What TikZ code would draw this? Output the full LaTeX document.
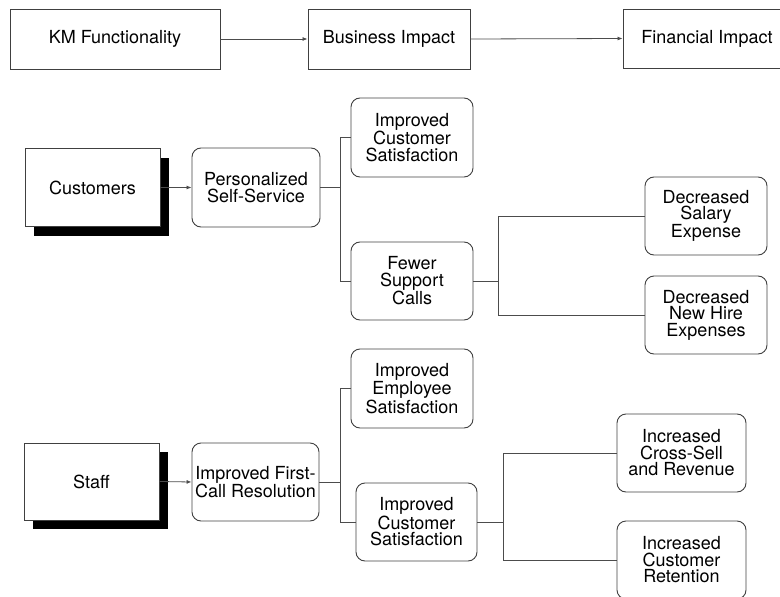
\documentclass[tikz,border=0pt]{standalone}
\usepackage{fontspec}
\setmainfont{TeX Gyre Heros}
\usetikzlibrary{arrows.meta,shadows}
\begin{document}
\begin{tikzpicture}[x=1pt,y=-1pt,
  every node/.style={font=\fontsize{18}{16.5}\selectfont, text=black, align=center, inner sep=0pt},
  hdrbox/.style={draw=black!75, line width=0.9pt, minimum height=60pt},
  srcbox/.style={draw=black!75, line width=0.9pt, fill=white, minimum width=135pt, minimum height=78pt,
     drop shadow={shadow xshift=9pt, shadow yshift=-9pt, fill=black, opacity=1}},
  rbox/.style={draw=black!75, line width=0.9pt, rounded corners=9pt, minimum height=78pt},
  conn/.style={draw=black!70, line width=0.8pt},
  arr/.style={conn, -{Latex[length=5pt,width=4pt]}}
]
\useasboundingbox (0,0) rectangle (780,597);
% header
\node[hdrbox, minimum width=210pt] (km) at (115,39) {KM Functionality};
\node[hdrbox, minimum width=162pt] (bi) at (389,39) {Business Impact};
\node[hdrbox, minimum width=168pt, minimum height=59pt] (fi) at (707,38.5) {Financial Impact};
\draw[arr] (km.east) -- (bi.west);
\draw[arr] (bi.east) -- (fi.west);
% customers branch
\node[srcbox] (cust) at (92.5,187.5) {Customers};
\node[rbox, minimum width=128pt, minimum height=79pt] (pss) at (256,187.5) {Personalized\\Self-Service};
\node[rbox, minimum width=122pt, minimum height=79pt] (ics1) at (412,137.5) {Improved\\Customer\\Satisfaction};
\node[rbox, minimum width=122pt] (fsc) at (412,281) {Fewer\\Support\\Calls};
\node[rbox, minimum width=122pt] (dse) at (706,216) {Decreased\\Salary\\Expense};
\node[rbox, minimum width=122pt] (dnh) at (706,315) {Decreased\\New Hire\\Expenses};
\draw[arr] (cust.east) -- (pss.west);
\coordinate (j1) at (340,187.5);
\draw[conn] (pss.east) -- (j1);
\draw[conn] (j1) |- (ics1.west);
\draw[conn] (j1) |- (fsc.west);
\coordinate (j2) at (498,281);
\draw[conn] (fsc.east) -- (j2);
\draw[conn] (j2) |- (dse.west);
\draw[conn] (j2) |- (dnh.west);
% staff branch
\node[srcbox, minimum height=77pt] (staff) at (91.5,481.5) {Staff};
\node[rbox, minimum width=127pt] (ifcr) at (255.5,482) {Improved First-\\Call Resolution};
\node[rbox, minimum width=122pt, minimum height=79pt] (ies) at (412,388.5) {Improved\\Employee\\Satisfaction};
\node[rbox, minimum width=121pt] (ics2) at (416.5,522) {Improved\\Customer\\Satisfaction};
\node[rbox, minimum width=129pt] (icr) at (681.5,453) {Increased\\Cross-Sell\\and Revenue};
\node[rbox, minimum width=129pt] (icr2) at (681.5,560) {Increased\\Customer\\Retention};
\draw[arr] (staff.east) -- (ifcr.west);
\coordinate (j3) at (340,482);
\draw[conn] (ifcr.east) -- (j3);
\draw[conn] (j3) |- (ies.west);
\draw[conn] (j3) |- (ics2.west);
\coordinate (j4) at (503,522);
\draw[conn] (ics2.east) -- (j4);
\draw[conn] (j4) |- (icr.west);
\draw[conn] (j4) |- (icr2.west);
\end{tikzpicture}
\end{document}
